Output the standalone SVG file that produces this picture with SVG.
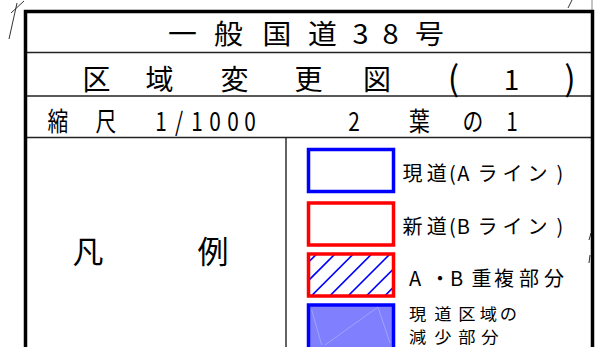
<svg xmlns="http://www.w3.org/2000/svg" width="608" height="347" viewBox="0 0 608 347">
<style>
.t{font-family:"Noto Sans CJK JP","Noto Sans CJK SC",sans-serif;fill:#000;text-anchor:middle}
.frame{fill:none;stroke:#000;stroke-width:3.5}
.row{stroke:#222;stroke-width:1.4}
.mark{stroke:#333;stroke-width:1;fill:none}
.sw{stroke-width:3.5}
</style>
<defs>
<clipPath id="hc"><rect x="309" y="254" width="85" height="42"/></clipPath>
</defs>
<rect width="608" height="347" fill="#fff"/>
<g id="marks">
<line class="mark" x1="9" y1="39" x2="17" y2="3"/>
<line class="mark" x1="11" y1="13" x2="24" y2="1"/>
<line class="mark" x1="568" y1="8" x2="572" y2="0"/>
<line x1="592" y1="0" x2="592" y2="11" stroke="#888" stroke-width="1"/>
<line class="mark" x1="589" y1="240" x2="591" y2="233" stroke-width="1.5"/>
<line class="mark" x1="589" y1="263" x2="590" y2="255" stroke-width="1.5"/>
</g>
<g id="table">
<line class="row" x1="27" y1="52.5" x2="591" y2="52.5"/>
<line class="row" x1="27" y1="96" x2="591" y2="96"/>
<line class="row" x1="27" y1="137.5" x2="591" y2="137.5"/>
<line class="row" x1="286" y1="137.5" x2="286" y2="347"/>
<path class="frame" d="M25.5,347 V11.5 H592.5 V347"/>
</g>
<g id="title">
<text class="t" font-size="27" transform="translate(0,43.5) scale(1.07,1)" x="170.6 213.6 258.9 301.4 336.9 365 401.4" y="0">一般国道38号</text>
</g>
<g id="subtitle">
<text class="t" font-size="28" x="96.5 159.5 234.5 308.5 377" y="90">区域変更図</text>
<text class="t" font-size="34" x="453.5" y="90.5">(</text>
<text class="t" font-size="28" x="511.5" y="90">1</text>
<text class="t" font-size="34" x="570" y="90.5">)</text>
</g>
<g id="scale-row">
<text class="t" font-size="26" transform="translate(0,131) scale(0.8,1)" x="72.5 132.5 201.25 223.75 246.25 268.75 291.25 312.5 442.5 524.4 591.25 640" y="0">縮尺1/10002葉の1</text>
</g>
<g id="legend-title">
<text class="t" font-size="31" x="88 213" y="263">凡例</text>
</g>
<g id="legend-a">
<rect x="308.5" y="149.5" width="85" height="42" fill="none" stroke="#0000ff" class="sw"/>
<text class="t" font-size="20" x="412.5 436.7 452.5 463.3 487.5 512.5 537.5 560" y="181">現道(Aライン)</text>
</g>
<g id="legend-b">
<rect x="308.5" y="203" width="85" height="42" fill="none" stroke="#ff0000" class="sw"/>
<text class="t" font-size="20" x="412.5 436.7 452.5 463.3 487.5 512.5 537.5 560" y="234">新道(Bライン)</text>
</g>
<g id="legend-ab">
<g clip-path="url(#hc)" stroke="#0000ff" stroke-width="1.6">
<line x1="255.3" y1="297" x2="300.3" y2="252"/>
<line x1="273.7" y1="297" x2="318.7" y2="252"/>
<line x1="292" y1="297" x2="337" y2="252"/>
<line x1="310.3" y1="297" x2="355.3" y2="252"/>
<line x1="328.7" y1="297" x2="373.7" y2="252"/>
<line x1="347" y1="297" x2="392" y2="252"/>
<line x1="365.3" y1="297" x2="410.3" y2="252"/>
<line x1="383.7" y1="297" x2="428.7" y2="252"/>
</g>
<rect x="308.5" y="254" width="85" height="42" fill="none" stroke="#ff0000" class="sw"/>
<text class="t" font-size="20" x="415 440 456.5 481.5 504 529 554" y="286">A・B重複部分</text>
</g>
<g id="legend-reduce">
<rect x="308.5" y="305" width="85" height="50" fill="#8080ff" stroke="#0000ff" class="sw"/>
<g stroke="#a8a8ff" stroke-width="0.8" fill="none">
<line x1="311.7" y1="310" x2="321.7" y2="345"/>
<line x1="325" y1="345" x2="378" y2="307"/>
<line x1="378" y1="307" x2="390" y2="343"/>
</g>
<text class="t" font-size="16" transform="translate(0,320) scale(1.08,1)" x="386.6 410.2 432.4 452.3 470.8" y="0">現道区域の</text>
<text class="t" font-size="16" transform="translate(0,343) scale(1.08,1)" x="386.6 410.2 432.4 453.7" y="0">減少部分</text>
</g>
</svg>
